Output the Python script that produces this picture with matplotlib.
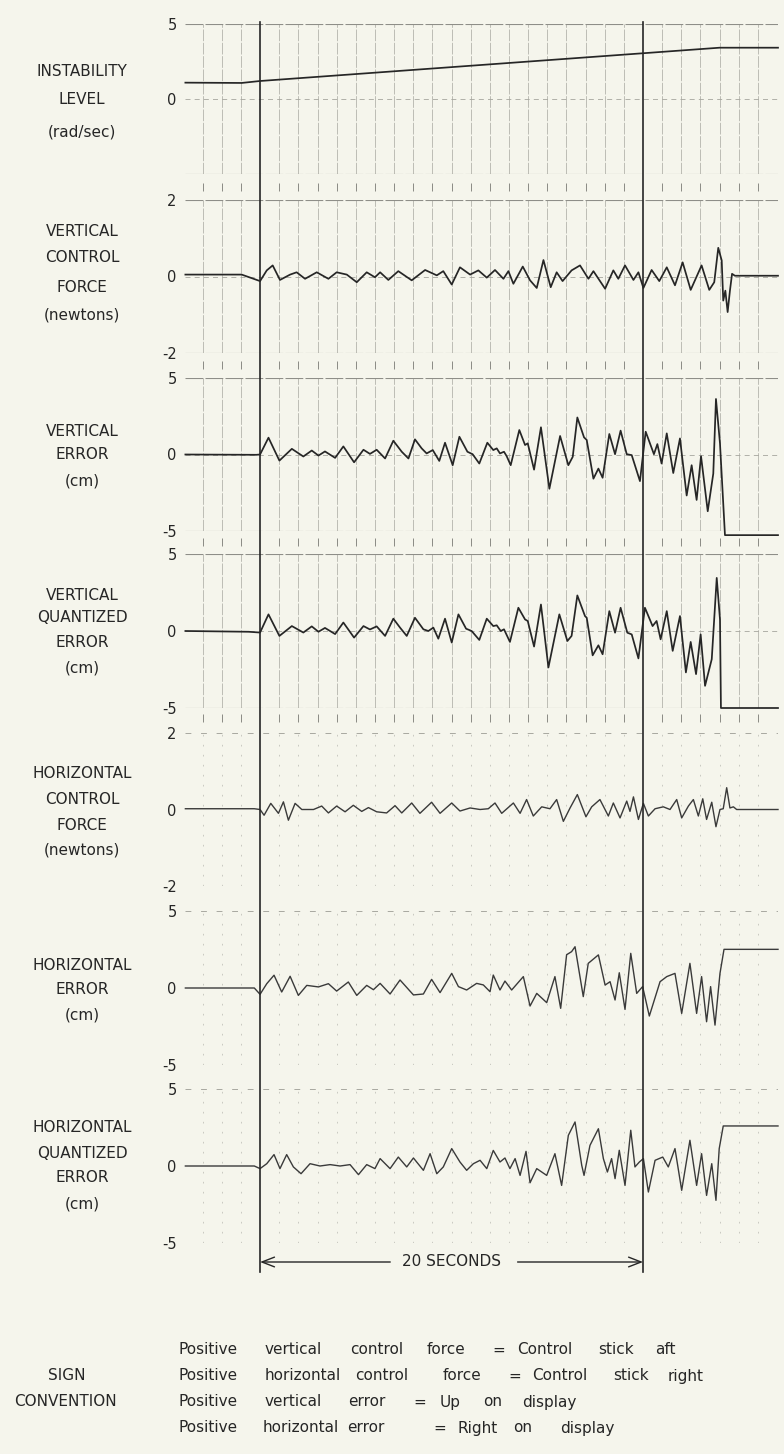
import matplotlib
matplotlib.use("Agg")
import matplotlib.pyplot as plt

# ---- traces: time in seconds from the first timing mark, value in panel units
inst_t = [-3.9, -0.96, 0.0, 24.0, 27.05]
inst_v = [1.09, 1.07, 1.2, 3.42, 3.42]

vcf_t = [-3.9, -0.96, 0.0, 0.35, 0.66, 1.04, 1.57, 1.91, 2.35, 2.96,
         3.57, 4.0, 4.53, 5.05, 5.57, 6.0, 6.27, 6.70, 7.22, 7.92,
         8.62, 9.23, 9.57, 10.01, 10.44, 10.97, 11.40, 11.84, 12.27, 12.71,
         12.97, 13.23, 13.72, 14.10, 14.45, 14.80, 15.18, 15.49, 15.80, 16.27,
         16.71, 17.15, 17.41, 18.02, 18.45, 18.71, 19.06, 19.50, 19.76, 20.02,
         20.45, 20.85, 21.24, 21.67, 22.07, 22.49, 23.06, 23.46, 23.72, 23.93,
         24.11, 24.19, 24.30, 24.42, 24.54, 24.65, 24.80, 27.05]
vcf_v = [0.05, 0.05, -0.12, 0.16, 0.29, -0.09, 0.05, 0.11, -0.06, 0.11,
         -0.06, 0.11, 0.05, -0.15, 0.11, -0.02, 0.11, -0.09, 0.14, -0.10,
         0.17, 0.03, 0.14, -0.21, 0.24, 0.05, 0.16, -0.03, 0.17, -0.06,
         0.14, -0.19, 0.26, -0.10, -0.30, 0.43, -0.28, 0.11, -0.12, 0.16,
         0.29, -0.06, 0.14, -0.32, 0.16, -0.06, 0.29, -0.09, 0.11, -0.30,
         0.17, -0.12, 0.24, -0.23, 0.37, -0.35, 0.29, -0.35, -0.15, 0.75,
         0.42, -0.63, -0.37, -0.93, -0.37, 0.07, 0.02, 0.02]

verr_t = [-3.9, -0.2, 0.0, 0.44, 1.01, 1.66, 2.26, 2.70, 3.05, 3.39,
          3.92, 4.35, 4.91, 5.40, 5.74, 6.09, 6.53, 6.96, 7.40, 7.75,
          8.09, 8.44, 8.70, 9.02, 9.36, 9.66, 10.06, 10.41, 10.83, 11.10,
          11.45, 11.87, 12.18, 12.36, 12.53, 12.74, 12.88, 13.09, 13.54, 13.84,
          13.98, 14.31, 14.67, 15.11, 15.67, 16.10, 16.33, 16.57, 16.92, 17.06,
          17.41, 17.67, 17.89, 18.24, 18.54, 18.83, 19.15, 19.41, 19.84, 20.14,
          20.57, 20.75, 20.97, 21.24, 21.58, 21.93, 22.28, 22.54, 22.80, 23.03,
          23.38, 23.67, 23.81, 24.02, 24.28, 27.05]
verr_v = [0.0, -0.02, 0.0, 1.10, -0.40, 0.37, -0.13, 0.26, -0.07, 0.20,
          -0.22, 0.53, -0.51, 0.31, 0.04, 0.31, -0.26, 0.90, 0.18, -0.26,
          0.99, 0.40, 0.07, 0.29, -0.42, 0.77, -0.70, 1.16, 0.18, 0.02,
          -0.59, 0.77, 0.29, 0.40, 0.07, 0.18, -0.11, -0.70, 1.60, 0.62,
          0.73, -0.99, 1.78, -2.24, 1.21, -0.70, -0.15, 2.42, 1.12, 0.95,
          -1.58, -0.92, -1.52, 1.34, 0.02, 1.56, 0.02, -0.04, -1.74, 1.49,
          0.02, 0.68, -0.59, 1.38, -1.21, 1.05, -2.68, -0.70, -2.97, -0.11,
          -3.71, -1.25, 3.63, 0.73, -5.27, -5.27]

vqe_t = [-3.9, -0.6, 0.0, 0.44, 1.01, 1.66, 2.26, 2.70, 3.05, 3.39,
         3.92, 4.35, 4.91, 5.40, 5.74, 6.09, 6.53, 6.96, 7.31, 7.66,
         8.09, 8.53, 8.79, 9.05, 9.31, 9.66, 10.01, 10.36, 10.76, 11.05,
         11.45, 11.84, 12.18, 12.36, 12.57, 12.74, 13.05, 13.49, 13.84, 13.98,
         14.31, 14.67, 15.06, 15.63, 16.05, 16.27, 16.57, 16.97, 17.06, 17.37,
         17.67, 17.89, 18.24, 18.54, 18.83, 19.18, 19.41, 19.76, 20.10, 20.50,
         20.71, 20.92, 21.24, 21.55, 21.93, 22.24, 22.49, 22.77, 23.01, 23.24,
         23.59, 23.85, 24.02, 24.07, 27.05]
vqe_v = [0.0, -0.05, -0.1, 1.08, -0.32, 0.32, -0.10, 0.30, -0.05, 0.20,
         -0.20, 0.55, -0.43, 0.32, 0.10, 0.30, -0.32, 0.80, 0.22, -0.32,
         0.86, 0.11, 0.0, 0.22, -0.50, 0.80, -0.75, 1.08, 0.15, 0.0,
         -0.58, 0.80, 0.32, 0.37, 0.0, 0.11, -0.71, 1.51, 0.75, 0.65,
         -1.01, 1.72, -2.37, 1.08, -0.65, -0.32, 2.31, 0.97, 0.86, -1.58,
         -0.93, -1.51, 1.29, -0.11, 1.51, -0.11, -0.22, -1.78, 1.51, 0.32,
         0.65, -0.54, 1.29, -1.29, 0.97, -2.69, -0.71, -2.80, -0.22, -3.56,
         -1.83, 3.45, 0.75, -5.0, -5.0]

hcf_t = [-3.9, -0.3, 0.0, 0.21, 0.56, 0.96, 1.22, 1.48, 1.83, 2.18,
         2.79, 3.22, 3.57, 4.00, 4.44, 4.87, 5.31, 5.66, 6.09, 6.61,
         7.05, 7.40, 7.92, 8.35, 8.96, 9.40, 10.01, 10.44, 10.97, 11.49,
         11.92, 12.27, 12.62, 13.23, 13.58, 13.92, 14.27, 14.71, 15.14, 15.49,
         15.84, 16.19, 16.57, 17.02, 17.32, 17.75, 18.19, 18.45, 18.80, 19.15,
         19.32, 19.50, 19.76, 20.02, 20.28, 20.63, 21.06, 21.41, 21.76, 22.02,
         22.37, 22.63, 22.89, 23.12, 23.32, 23.59, 23.81, 24.02, 24.19, 24.37,
         24.54, 24.72, 24.89, 27.05]
hcf_v = [0.02, 0.02, 0.0, -0.15, 0.16, -0.10, 0.20, -0.28, 0.16, 0.0,
         0.0, 0.09, -0.09, 0.09, -0.06, 0.11, -0.05, 0.05, -0.06, -0.09,
         0.10, -0.09, 0.17, -0.10, 0.19, -0.10, 0.17, -0.04, 0.04, 0.0,
         0.02, 0.17, -0.10, 0.17, -0.10, 0.26, -0.17, 0.07, 0.02, 0.26,
         -0.31, 0.04, 0.39, -0.19, 0.07, 0.26, -0.17, 0.17, -0.22, 0.22,
         -0.05, 0.33, -0.26, 0.16, -0.17, 0.02, 0.07, 0.0, 0.26, -0.22,
         0.09, 0.26, -0.17, 0.28, -0.26, 0.19, -0.45, 0.0, 0.02, 0.57,
         0.04, 0.07, 0.0, 0.0]

herr_t = [-3.9, -0.3, 0.0, 0.35, 0.73, 1.13, 1.57, 2.00, 2.44, 3.05,
          3.57, 4.0, 4.61, 5.05, 5.57, 5.92, 6.27, 6.79, 7.31, 8.01,
          8.53, 8.96, 9.40, 10.01, 10.36, 10.79, 11.31, 11.66, 12.01, 12.18,
          12.53, 12.79, 13.14, 13.75, 14.10, 14.45, 14.97, 15.40, 15.70, 16.01,
          16.27, 16.45, 16.88, 17.14, 17.67, 18.02, 18.28, 18.54, 18.76, 19.06,
          19.36, 19.67, 19.98, 20.33, 20.89, 21.24, 21.67, 22.02, 22.45, 22.80,
          23.06, 23.32, 23.53, 23.76, 24.02, 24.23, 27.05]
herr_v = [0.0, 0.0, -0.41, 0.28, 0.83, -0.26, 0.76, -0.48, 0.17, 0.07,
          0.28, -0.20, 0.39, -0.48, 0.17, -0.11, 0.30, -0.39, 0.52, -0.45,
          -0.39, 0.56, -0.30, 0.95, 0.09, -0.13, 0.30, 0.20, -0.24, 0.84,
          -0.13, 0.45, -0.13, 0.74, -1.17, -0.35, -0.95, 0.74, -1.32, 2.16,
          2.36, 2.68, -0.56, 1.60, 2.15, 0.19, 0.41, -0.78, 0.99, -1.39,
          2.25, -0.35, 0.09, -1.82, 0.41, 0.74, 0.95, -1.65, 1.60, -1.65,
          0.74, -2.19, 0.09, -2.41, 0.95, 2.51, 2.51]

hqe_t = [-3.9, -0.3, 0.0, 0.35, 0.73, 1.04, 1.39, 1.74, 2.14, 2.61,
         3.13, 3.66, 4.18, 4.70, 5.14, 5.57, 6.0, 6.27, 6.79, 7.22,
         7.66, 8.01, 8.53, 8.88, 9.23, 9.57, 10.01, 10.44, 10.79, 11.14,
         11.49, 11.84, 12.18, 12.53, 12.79, 13.05, 13.32, 13.58, 13.89, 14.10,
         14.45, 14.71, 14.97, 15.40, 15.75, 16.10, 16.45, 16.80, 16.92, 17.23,
         17.67, 17.93, 18.14, 18.36, 18.54, 18.76, 19.06, 19.36, 19.58, 19.81,
         20.02, 20.28, 20.63, 21.03, 21.32, 21.67, 22.02, 22.45, 22.80, 23.06,
         23.32, 23.59, 23.81, 23.98, 24.19, 27.05]
hqe_v = [0.0, 0.0, -0.17, 0.15, 0.74, -0.17, 0.74, -0.06, -0.50, 0.15,
         0.0, 0.09, 0.0, 0.09, -0.56, 0.09, -0.17, 0.48, -0.17, 0.58,
         -0.06, 0.52, -0.28, 0.80, -0.50, -0.06, 1.13, 0.26, -0.28, 0.15,
         0.37, -0.17, 1.01, 0.26, 0.52, -0.17, 0.48, -0.61, 0.95, -1.09,
         -0.17, -0.39, -0.61, 0.80, -1.26, 1.99, 2.86, 0.04, -0.61, 1.34,
         2.42, 0.48, -0.39, 0.48, -0.82, 1.02, -1.26, 2.32, -0.06, 0.26,
         0.48, -1.69, 0.37, 0.58, -0.06, 1.13, -1.58, 1.67, -1.26, 0.80,
         -1.91, 0.15, -2.23, 1.13, 2.60, 2.60]

timing_marks = [0, 20]
grid_t = [t for t in range(-3, 27) if t not in timing_marks]

W, H = 784, 1454
BG = "#f5f5ec"
INK = "#262626"
plt.rcParams["font.family"] = ["DejaVu Sans"]

fig = plt.figure(figsize=(W / 100, H / 100), dpi=100, facecolor=BG)


def fy(px):
    return 1 - px / H


X0, X1 = 185, 778
T0, T1 = -3.92, 27.05

panels = [
    (["INSTABILITY", "LEVEL", "(rad/sec)"], [71, 100, 132], 24, 174, 5, [5, 0], inst_t, inst_v, False),
    (["VERTICAL", "CONTROL", "FORCE", "(newtons)"], [231, 258, 287, 315], 200, 353, 2, [2, 0, -2], vcf_t, vcf_v, False),
    (["VERTICAL", "ERROR", "(cm)"], [432, 455, 481], 378, 531, 5, [5, 0, -5], verr_t, verr_v, False),
    (["VERTICAL", "QUANTIZED", "ERROR", "(cm)"], [595, 618, 643, 668], 554, 708, 5, [5, 0, -5], vqe_t, vqe_v, False),
    (["HORIZONTAL", "CONTROL", "FORCE", "(newtons)"], [773, 799, 825, 850], 733, 886, 2, [2, 0, -2], hcf_t, hcf_v, True),
    (["HORIZONTAL", "ERROR", "(cm)"], [966, 989, 1015], 911, 1065, 5, [5, 0, -5], herr_t, herr_v, True),
    (["HORIZONTAL", "QUANTIZED", "ERROR", "(cm)"], [1128, 1153, 1178, 1204], 1089, 1243, 5, [5, 0, -5], hqe_t, hqe_v, True),
]

for labels, rows, top, bot, lim, ticks, t, v, faint in panels:
    ax = fig.add_axes([X0 / W, fy(bot), (X1 - X0) / W, (bot - top) / H])
    ax.set_facecolor("none")
    ax.set_xlim(T0, T1)
    ax.set_ylim(-lim, lim)
    for s in ax.spines.values():
        s.set_visible(False)
    ax.set_xticks([])
    ax.set_yticks(ticks)
    ax.set_yticklabels([str(k) for k in ticks], fontsize=10.5, color=INK)
    ax.tick_params(axis="y", length=0, pad=6)
    if faint:
        ax.vlines(grid_t, -lim, lim, colors="#c2c2ba", linewidth=0.6, linestyles=(0, (2, 10)))
        ax.axhline(lim, color="#a8a8a0", lw=0.7, ls=(0, (6, 10)))
        ax.axhline(-lim, color="#a8a8a0", lw=0.7, ls=(0, (6, 10)))
    else:
        ax.vlines(grid_t, -lim, lim, colors="#b4b4ac", linewidth=0.6, linestyles=(0, (14, 2)))
        ax.axhline(lim, color="#8e8e88", lw=0.8, ls=(0, (16, 2)))
        ax.axhline(-lim, color="#8e8e88", lw=0.8, ls=(0, (16, 2)))
        ax.axhline(0, color="#a6a69e", lw=0.6, ls=(0, (6, 5)))
    ax.plot(t, v, color=INK if not faint else "#3a3a3a", lw=1.25 if not faint else 1.0,
            clip_on=False, solid_joinstyle="round", zorder=5)
    for s, y in zip(labels, rows):
        fig.text(82 / W, fy(y), s, ha="center", va="center", fontsize=11, color=INK)

# overlay axes: x in seconds, y in pixels
ov = fig.add_axes([X0 / W, 0, (X1 - X0) / W, 1])
ov.set_xlim(T0, T1)
ov.set_ylim(H, 0)
ov.axis("off")
ov.set_facecolor("none")

for tm in timing_marks:
    ov.plot([tm, tm], [22, 1272], color=INK, lw=1.2)

for y in [187, 365, 542, 718]:
    ov.vlines(grid_t, y - 4, y + 4, colors="#8a8a84", linewidth=0.7)

arrow = dict(arrowstyle="->,head_length=0.9,head_width=0.35", color=INK, lw=1.0,
             shrinkA=0, shrinkB=0)
ov.annotate("", xy=(0, 1262), xytext=(6.8, 1262), arrowprops=arrow)
ov.annotate("", xy=(20, 1262), xytext=(13.45, 1262), arrowprops=arrow)
ov.text(10, 1262, "20 SECONDS", ha="center", va="center", fontsize=11, color=INK)

# sign convention block
fig.text(67 / W, fy(1376), "SIGN", ha="center", va="center", fontsize=11, color=INK)
fig.text(65 / W, fy(1402), "CONVENTION", ha="center", va="center", fontsize=11, color=INK)

sign_rows = [
    (1350, ["Positive", "vertical", "control", "force", "=", "Control", "stick", "aft"],
     [178, 265, 350, 427, 492, 517, 598, 655]),
    (1376, ["Positive", "horizontal", "control", "force", "=", "Control", "stick", "right"],
     [178, 265, 355, 443, 508, 532, 613, 668]),
    (1402, ["Positive", "vertical", "error", "=", "Up", "on", "display"],
     [178, 265, 348, 413, 440, 483, 522]),
    (1428, ["Positive", "horizontal", "error", "=", "Right", "on", "display"],
     [178, 263, 347, 433, 458, 513, 560]),
]
for y, words, xs in sign_rows:
    for w, x in zip(words, xs):
        fig.text(x / W, fy(y), w, ha="left", va="center", fontsize=11, color=INK)

fig.savefig("out.png", dpi=100, facecolor=BG)
